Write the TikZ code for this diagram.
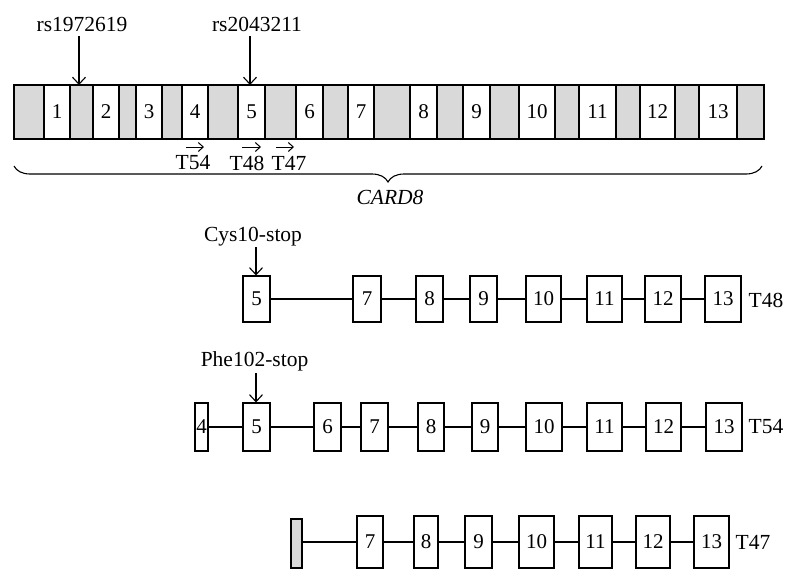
\documentclass[tikz,border=0pt]{standalone}
\usepackage{fontspec}
\setmainfont{Liberation Serif}
\usetikzlibrary{arrows.meta,decorations.pathreplacing}
\definecolor{exongray}{RGB}{217,217,217}
\begin{document}
\begin{tikzpicture}[x=1pt,y=-1pt,
  font=\fontsize{21}{25}\selectfont,
  every node/.style={inner sep=0pt},
  barexon/.style={draw, fill=white, line width=1.1pt, minimum height=54pt},
  trexon/.style={draw, fill=white, line width=1.1pt},
  lbl/.style={font=\fontsize{21.5}{25}\selectfont},
  link/.style={line width=1.1pt},
  snparrow/.style={line width=1.1pt, -{Straight Barb[length=7pt,width=13pt,line width=1.1pt]}},
  tarrow/.style={line width=1pt, -{Straight Barb[length=5pt,width=9pt,line width=1pt]}}]
\useasboundingbox (0,0) rectangle (797,581);

% ---- gene bar ----
\node[draw, fill=exongray, line width=1.1pt, minimum width=750pt, minimum height=54pt] (bar) at (389,112) {};
\node[barexon, minimum width=26pt] (b1) at (57,112) {1};
\node[barexon, minimum width=26pt] (b2) at (106,112) {2};
\node[barexon, minimum width=26pt] (b3) at (149,112) {3};
\node[barexon, minimum width=26pt] (b4) at (195,112) {4};
\node[barexon, minimum width=27pt] (b5) at (251.5,112) {5};
\node[barexon, minimum width=27pt] (b6) at (309.5,112) {6};
\node[barexon, minimum width=26pt] (b7) at (361,112) {7};
\node[barexon, minimum width=27pt] (b8) at (423.5,112) {8};
\node[barexon, minimum width=27pt] (b9) at (476.5,112) {9};
\node[barexon, minimum width=36pt] (b10) at (537,112) {10};
\node[barexon, minimum width=37pt] (b11) at (597.5,112) {\raisebox{-3pt}{11}};
\node[barexon, minimum width=35pt] (b12) at (657.5,112) {12};
\node[barexon, minimum width=38pt] (b13) at (718,112) {13};

% SNPs
\node[lbl] (rs1) at (82,24) {rs1972619};
\node[lbl] (rs2) at (257,24) {rs2043211};
\coordinate (snp1) at (79,85);
\coordinate (snp2) at (250,85);
\coordinate (snp1t) at (79,36);
\coordinate (snp2t) at (250,36);
\draw[snparrow] (snp1t) -- (snp1);
\draw[snparrow] (snp2t) -- (snp2);

% transcript starts
\node[lbl] (t54) at (193,163) {T54};
\node[lbl] (t48) at (247,163) {T48};
\node[lbl] (t47) at (289,163) {T47};
\coordinate (a54s) at (186,147); \coordinate (a54e) at (204,147);
\coordinate (a48s) at (242,147); \coordinate (a48e) at (261,147);
\coordinate (a47s) at (276,147); \coordinate (a47e) at (294,147);
\draw[tarrow] (a54s) -- (a54e);
\draw[tarrow] (a48s) -- (a48e);
\draw[tarrow] (a47s) -- (a47e);

% brace
\coordinate (brL) at (14,166);
\coordinate (brR) at (762,166);
\draw[line width=1.1pt, decorate, decoration={brace, mirror, amplitude=16pt}] (brL) -- (brR);
\node[lbl, font=\fontsize{21.5}{25}\selectfont\itshape] (card) at (390,197) {CARD8};

% ---- T48 ----
\tikzset{r1/.style={trexon, minimum height=46pt}}
\node[r1, minimum width=27pt] (p5) at (256.5,299) {5};
\node[r1, minimum width=28pt] (p7) at (367,299) {7};
\node[r1, minimum width=27pt] (p8) at (429.5,299) {8};
\node[r1, minimum width=27pt] (p9) at (483.5,299) {9};
\node[r1, minimum width=35pt] (p10) at (543.5,299) {10};
\node[r1, minimum width=35pt] (p11) at (604.5,299) {11};
\node[r1, minimum width=36pt] (p12) at (663,299) {12};
\node[r1, minimum width=36pt] (p13) at (723,299) {13};
\node[lbl] (l48) at (766,300) {T48};
\draw[link] (p5) -- (p7);
\draw[link] (p7) -- (p8);
\draw[link] (p8) -- (p9);
\draw[link] (p9) -- (p10);
\draw[link] (p10) -- (p11);
\draw[link] (p11) -- (p12);
\draw[link] (p12) -- (p13);
\node[lbl] (cys) at (253,237) {Cys10-stop};
\coordinate (cysT) at (256,247);
\draw[snparrow] (cysT) -- (p5.north -| cysT);

% ---- T54 ----
\tikzset{r2/.style={trexon, minimum height=48pt}}
\node[r2, minimum width=13pt] (q4) at (201.5,427) {4};
\node[r2, minimum width=27pt] (q5) at (256.5,427) {5};
\node[r2, minimum width=27pt] (q6) at (327.5,427) {6};
\node[r2, minimum width=27pt] (q7) at (374.5,427) {7};
\node[r2, minimum width=26pt] (q8) at (431,427) {8};
\node[r2, minimum width=26pt] (q9) at (485,427) {9};
\node[r2, minimum width=36pt] (q10) at (544,427) {10};
\node[r2, minimum width=35pt] (q11) at (604.5,427) {11};
\node[r2, minimum width=35pt] (q12) at (663.5,427) {12};
\node[r2, minimum width=36pt] (q13) at (724,427) {13};
\node[lbl] (l54) at (766,427) {T54};
\draw[link] (q4) -- (q5);
\draw[link] (q5) -- (q6);
\draw[link] (q6) -- (q7);
\draw[link] (q7) -- (q8);
\draw[link] (q8) -- (q9);
\draw[link] (q9) -- (q10);
\draw[link] (q10) -- (q11);
\draw[link] (q11) -- (q12);
\draw[link] (q12) -- (q13);
\node[lbl] (phe) at (254.5,361) {Phe102-stop};
\coordinate (pheT) at (256,373);
\draw[snparrow] (pheT) -- (q5.north -| pheT);

% ---- T47 ----
\tikzset{r3/.style={trexon, minimum height=52pt}}
\node[draw, fill=exongray, line width=1.1pt, minimum width=11pt, minimum height=49pt] (g0) at (296.5,543.5) {};
\node[r3, minimum width=26pt] (s7) at (370,542) {7};
\node[r3, minimum width=24pt] (s8) at (426,542) {8};
\node[r3, minimum width=27pt] (s9) at (478.5,542) {9};
\node[r3, minimum width=35pt] (s10) at (536.5,542) {10};
\node[r3, minimum width=33pt] (s11) at (595.5,542) {11};
\node[r3, minimum width=34pt] (s12) at (653,542) {12};
\node[r3, minimum width=35pt] (s13) at (711.5,542) {13};
\node[lbl] (l47) at (753,542) {T47};
\draw[link] (g0.east |- s7) -- (s7);
\draw[link] (s7) -- (s8);
\draw[link] (s8) -- (s9);
\draw[link] (s9) -- (s10);
\draw[link] (s10) -- (s11);
\draw[link] (s11) -- (s12);
\draw[link] (s12) -- (s13);
\end{tikzpicture}
\end{document}
